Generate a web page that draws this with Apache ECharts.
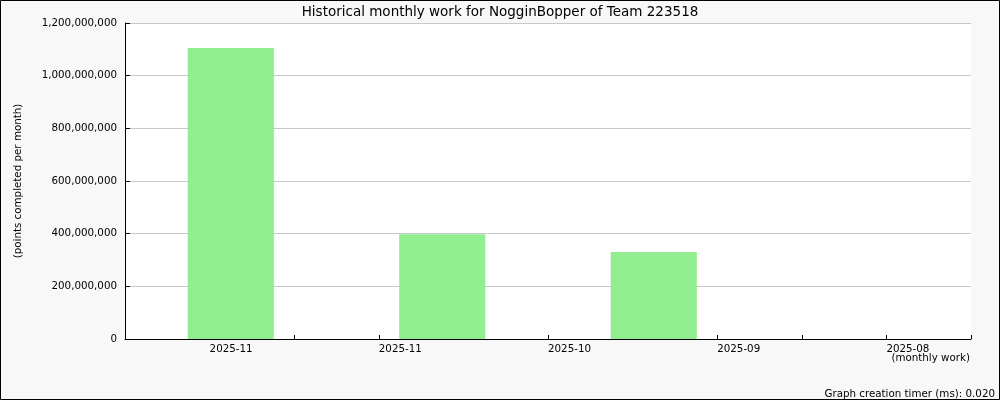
<!DOCTYPE html>
<html>
<head>
<meta charset="utf-8">
<script src="https://cdn.jsdelivr.net/npm/echarts@6/dist/echarts.min.js"></script>
<style>
html,body{margin:0;padding:0;background:#f8f8f8;}
#chart{width:1000px;height:400px;}
</style>
</head>
<body>
<div id="chart"></div>
<script>
const titleText = 'Historical monthly work for NogginBopper of Team 223518';
const barSlots = ['slot1', 'slot2', 'slot3', 'slot4'];
const monthlyPoints = [1105000000, 398000000, 330000000, 0];
const monthLabels = ['2025-11', '2025-11', '2025-10', '2025-09', '2025-08'];
const yTicks = [0, 200000000, 400000000, 600000000, 800000000, 1000000000, 1200000000];
const yAxisName = '(points completed per month)';
const xAxisName = '(monthly work)';
const timerText = 'Graph creation timer (ms): 0.020';

const font = 'DejaVu Sans';
const fs = 10.3;
const chart = echarts.init(document.getElementById('chart'), null, {renderer: 'canvas'});
function fmt(v) { return String(v).replace(/\B(?=(\d{3})+(?!\d))/g, ','); }

chart.setOption({
  backgroundColor: '#f8f8f8',
  animation: false,
  title: {
    text: titleText, left: 'center', top: 0,
    textStyle: {fontFamily: font, fontSize: 13.5, fontWeight: 'normal', color: '#000'}
  },
  grid: {left: 125, right: 29, top: 23, bottom: 61, backgroundColor: '#ffffff', show: true, borderWidth: 0, outerBoundsMode: 'none', containLabel: false},
  xAxis: [
    {type: 'category', data: barSlots, show: false},
    {
      type: 'value', min: 0, max: monthLabels.length * 2, interval: 1, position: 'bottom',
      axisLine: {show: true, onZero: false, lineStyle: {color: '#000', width: 1}},
      axisTick: {show: true, inside: true, length: 4, lineStyle: {color: '#000'}},
      splitLine: {show: false},
      axisLabel: {
        show: true, margin: 5, align: 'left', showMinLabel: true, showMaxLabel: true, hideOverlap: false,
        fontFamily: font, fontSize: fs, color: '#000',
        formatter: function (v) { return (v % 2 === 1) ? monthLabels[(v - 1) / 2] : ''; }
      }
    }
  ],
  yAxis: {
    type: 'value', min: yTicks[0], max: yTicks[yTicks.length - 1], interval: yTicks[1] - yTicks[0],
    axisLine: {show: true, lineStyle: {color: '#000', width: 1}},
    axisTick: {show: true, inside: true, length: 5, lineStyle: {color: '#000'}},
    splitLine: {show: true, lineStyle: {color: '#c8c8c8', width: 1}},
    axisLabel: {margin: 8, fontFamily: font, fontSize: fs, color: '#000', formatter: fmt},
    name: yAxisName, nameLocation: 'middle', nameGap: 102,
    nameTextStyle: {fontFamily: font, fontSize: fs, color: '#000'}
  },
  series: [{
    type: 'bar', xAxisIndex: 0, data: monthlyPoints, barWidth: '40.7%',
    itemStyle: {color: '#90ee90'}
  }],
  graphic: [
    {type: 'text', right: 30, top: 353, style: {text: xAxisName, fontFamily: font, fontSize: fs, fill: '#000'}},
    {type: 'text', right: 5, bottom: 1, style: {text: timerText, fontFamily: font, fontSize: fs, fill: '#000'}},
    {type: 'rect', shape: {x: 0.5, y: 0.5, width: 999, height: 399}, style: {fill: 'none', stroke: '#000', lineWidth: 1}, silent: true, z: 100}
  ]
});
</script>
</body>
</html>
